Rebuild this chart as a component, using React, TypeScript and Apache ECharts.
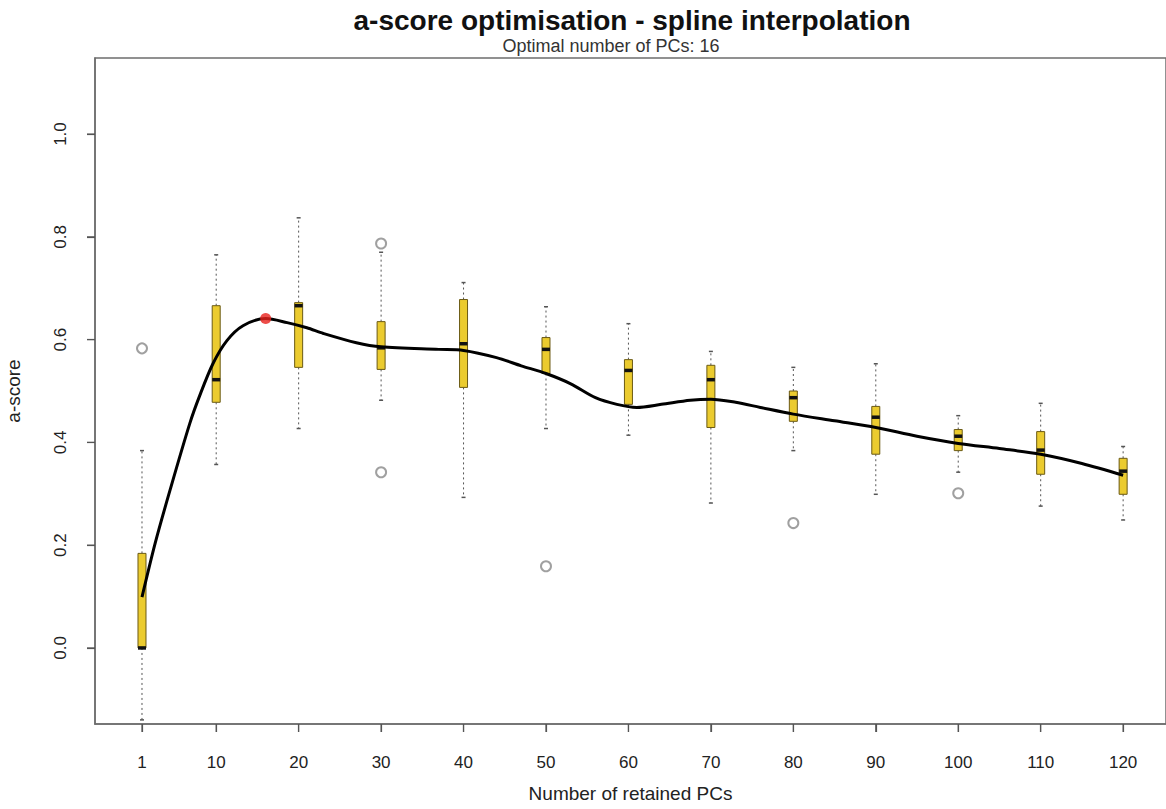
import React, { useEffect, useRef } from "react";
import * as echarts from "echarts";

const pcs = [1, 10, 20, 30, 40, 50, 60, 70, 80, 90, 100, 110, 120];
const lowerWhisker = [-0.14, 0.357, 0.427, 0.482, 0.293, 0.427, 0.414, 0.282, 0.384, 0.299, 0.342, 0.276, 0.249];
const q1 = [0.0, 0.478, 0.546, 0.542, 0.507, 0.534, 0.474, 0.429, 0.441, 0.377, 0.384, 0.338, 0.299];
const median = [0.0, 0.522, 0.666, 0.584, 0.592, 0.581, 0.54, 0.522, 0.487, 0.449, 0.412, 0.385, 0.344];
const q3 = [0.184, 0.666, 0.672, 0.635, 0.678, 0.604, 0.561, 0.55, 0.5, 0.47, 0.425, 0.421, 0.369];
const upperWhisker = [0.384, 0.765, 0.837, 0.77, 0.711, 0.664, 0.631, 0.577, 0.546, 0.553, 0.452, 0.476, 0.392];

const outlierPCs = [1, 30, 30, 50, 80, 100];
const outlierValues = [0.583, 0.787, 0.342, 0.159, 0.243, 0.301];

const splinePCs = [1, 2.6, 4.4, 6.8, 8.0, 9.6, 11.3, 13.25, 16, 18.6, 21, 23, 27, 30, 37, 40, 44, 47, 50, 53, 56, 58.6, 61, 64, 67.5, 70, 73, 76, 80, 85, 90, 95, 100, 105, 110, 115, 120];
const splineValues = [0.099, 0.204, 0.307, 0.437, 0.491, 0.553, 0.598, 0.627, 0.641, 0.633, 0.623, 0.612, 0.594, 0.586, 0.581, 0.579, 0.565, 0.549, 0.534, 0.514, 0.487, 0.474, 0.468, 0.474, 0.482, 0.484, 0.478, 0.468, 0.455, 0.442, 0.429, 0.412, 0.398, 0.388, 0.377, 0.359, 0.336];

const optimalPC = 16;
const optimalScore = 0.641;

const yTicks = [0, 0.2, 0.4, 0.6, 0.8, 1.0];

const titleText = "a-score optimisation - spline interpolation";
const subtitleText = "Optimal number of PCs: 16";
const xName = "Number of retained PCs";
const yName = "a-score";

const X_MIN = -4.7;
const X_MAX = 125.2;
const Y_MIN = -0.148;
const Y_MAX = 1.148;

const FONT = "'Liberation Sans', Arial, Helvetica, sans-serif";
const FRAME = "#6e6e6e";
const TICK_LEN = 8;

export default function App() {
  const ref = useRef<HTMLDivElement>(null);

  useEffect(() => {
    document.body.style.margin = "0";
    if (!ref.current) return;
    const chart = echarts.init(ref.current, null, { renderer: "svg" });

    const boxData = pcs.map((p, i) => [p, lowerWhisker[i], q1[i], median[i], q3[i], upperWhisker[i]]);
    const outlierData = outlierPCs.map((p, i) => [p, outlierValues[i]]);
    const splineData = splinePCs.map((p, i) => [p, splineValues[i]]);

    const option: any = {
      animation: false,
      backgroundColor: "#ffffff",
      textStyle: { fontFamily: FONT },
      grid: {
        left: 95,
        top: 58,
        right: 0,
        bottom: 85,
        outerBoundsMode: "none",
        containLabel: false,
        show: true,
        borderColor: FRAME,
        borderWidth: 1.5,
        backgroundColor: "transparent",
      },
      xAxis: {
        type: "value",
        position: "bottom",
        min: X_MIN,
        max: X_MAX,
        name: xName,
        nameLocation: "middle",
        nameGap: 60,
        nameTextStyle: { fontSize: 19, color: "#222", fontFamily: FONT },
        axisLine: { show: true, onZero: false, lineStyle: { color: FRAME, width: 1.5 } },
        splitLine: { show: false },
        axisTick: {
          show: true,
          inside: false,
          length: TICK_LEN,
          customValues: pcs,
          lineStyle: { color: "#555", width: 1.2 },
        },
        axisLabel: {
          customValues: pcs,
          fontSize: 17,
          color: "#222",
          margin: 30,
          fontFamily: FONT,
        },
      },
      yAxis: {
        type: "value",
        position: "left",
        min: Y_MIN,
        max: Y_MAX,
        name: yName,
        nameLocation: "middle",
        nameGap: 72,
        nameRotate: 90,
        nameTextStyle: { fontSize: 19, color: "#222", fontFamily: FONT },
        axisLine: { show: true, onZero: false, lineStyle: { color: FRAME, width: 1.5 } },
        splitLine: { show: false },
        axisTick: {
          show: true,
          inside: false,
          length: TICK_LEN,
          customValues: yTicks,
          lineStyle: { color: "#555", width: 1.2 },
        },
        axisLabel: {
          customValues: yTicks,
          rotate: 90,
          fontSize: 17,
          color: "#222",
          margin: 26,
          fontFamily: FONT,
          formatter: (v: number) => v.toFixed(1),
        },
      },
      series: [
        {
          type: "custom",
          name: "boxes",
          data: boxData,
          encode: { x: 0, y: [1, 2, 3, 4, 5] },
          z: 2,
          renderItem: (params: any, api: any) => {
            const x = api.value(0);
            const pLow = api.coord([x, api.value(1)]);
            const pQ1 = api.coord([x, api.value(2)]);
            const pMed = api.coord([x, api.value(3)]);
            const pQ3 = api.coord([x, api.value(4)]);
            const pUp = api.coord([x, api.value(5)]);
            const cx = pLow[0];
            const hw = 4;
            const cap = 2;
            const dashStyle = { stroke: "#555", lineWidth: 1, lineDash: [2, 3] };
            return {
              type: "group",
              children: [
                { type: "line", shape: { x1: cx, y1: pQ1[1], x2: cx, y2: pLow[1] }, style: dashStyle },
                { type: "line", shape: { x1: cx, y1: pQ3[1], x2: cx, y2: pUp[1] }, style: dashStyle },
                { type: "line", shape: { x1: cx - cap, y1: pLow[1], x2: cx + cap, y2: pLow[1] }, style: { stroke: "#555", lineWidth: 1.5 } },
                { type: "line", shape: { x1: cx - cap, y1: pUp[1], x2: cx + cap, y2: pUp[1] }, style: { stroke: "#555", lineWidth: 1.5 } },
                {
                  type: "rect",
                  shape: { x: cx - hw, y: pQ3[1], width: hw * 2, height: pQ1[1] - pQ3[1] },
                  style: { fill: "#EBCB2F", stroke: "#6b5a14", lineWidth: 1 },
                },
                { type: "line", shape: { x1: cx - hw, y1: pMed[1], x2: cx + hw, y2: pMed[1] }, style: { stroke: "#111", lineWidth: 3.5 } },
              ],
            };
          },
        },
        {
          type: "scatter",
          name: "outliers",
          data: outlierData,
          symbol: "emptyCircle",
          symbolSize: 10,
          z: 3,
          itemStyle: { color: "#888", borderColor: "#888", borderWidth: 1.4 },
        },
        {
          type: "line",
          name: "spline",
          data: splineData,
          smooth: 0.3,
          showSymbol: false,
          symbol: "none",
          z: 4,
          lineStyle: { color: "#000", width: 3 },
        },
        {
          type: "scatter",
          name: "optimum",
          data: [[optimalPC, optimalScore]],
          symbol: "circle",
          symbolSize: 11,
          z: 5,
          itemStyle: { color: "#e8201c" },
        },
      ],
    };

    chart.setOption(option);

    const toX = (v: number) => Number(chart.convertToPixel({ xAxisIndex: 0 }, v));
    const toY = (v: number) => Number(chart.convertToPixel({ yAxisIndex: 0 }, v));
    const bottomY = toY(Y_MIN);
    const leftX = toX(X_MIN);

    const tickMarks: any[] = [];
    if (isFinite(bottomY) && isFinite(leftX)) {
      pcs.forEach((p) => {
        const x = toX(p);
        tickMarks.push({
          type: "rect",
          silent: true,
          z: 100,
          shape: { x: x - 0.6, y: bottomY, width: 1.2, height: TICK_LEN },
          style: { fill: "#555" },
        });
      });
      yTicks.forEach((v) => {
        const y = toY(v);
        tickMarks.push({
          type: "rect",
          silent: true,
          z: 100,
          shape: { x: leftX - TICK_LEN, y: y - 0.6, width: TICK_LEN, height: 1.2 },
          style: { fill: "#555" },
        });
      });
    }

    chart.setOption({
      graphic: [
        {
          type: "text",
          x: 632,
          y: 20,
          style: {
            text: titleText,
            fontFamily: FONT,
            fontWeight: "bold",
            fontSize: 28,
            fill: "#111",
            textAlign: "center",
            textVerticalAlign: "middle",
          },
        },
        {
          type: "text",
          x: 611,
          y: 46,
          style: {
            text: subtitleText,
            fontFamily: FONT,
            fontSize: 18,
            fill: "#333",
            textAlign: "center",
            textVerticalAlign: "middle",
          },
        },
        ...tickMarks,
      ],
    });

    return () => {
      chart.dispose();
    };
  }, []);

  return <div ref={ref} style={{ width: 1166, height: 809 }} />;
}
